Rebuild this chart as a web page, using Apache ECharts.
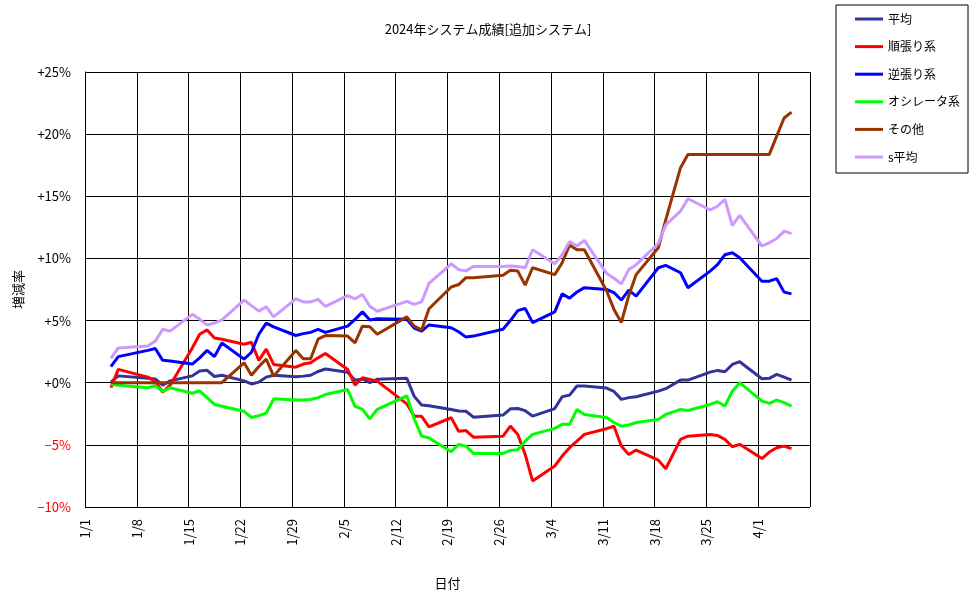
<!DOCTYPE html>
<html>
<head>
<meta charset="utf-8">
<script src="https://cdn.jsdelivr.net/npm/echarts@6/dist/echarts.min.js"></script>
<style>
  html, body { margin: 0; padding: 0; background: #fff; }
  #chart { width: 976px; height: 599px; }
</style>
</head>
<body>
<div id="chart"></div>
<script>
// 営業日
var dates = ['1/4','1/5','1/9','1/10','1/11','1/12','1/15','1/16','1/17','1/18','1/19','1/22','1/23','1/24','1/25','1/26','1/29','1/30','1/31',
	'2/1','2/2','2/5','2/6','2/7','2/8','2/9','2/13','2/14','2/15','2/16','2/19','2/20','2/21','2/22','2/26','2/27','2/28','2/29',
	'3/1','3/4','3/5','3/6','3/7','3/8','3/11','3/12','3/13','3/14','3/15','3/18','3/19','3/21','3/22','3/25','3/26','3/27','3/28','3/29',
	'4/1','4/2','4/3','4/4','4/5'];

var seriesNames = ['平均', '順張り系', '逆張り系', 'オシレータ系', 'その他', 's平均'];
var seriesColors = ['#333399', '#ff0000', '#0000ff', '#00ff00', '#993300', '#cc99ff'];

var avgValues = [0.05, 0.55, 0.35, 0.3, -0.2, 0.15, 0.55, 0.95, 1.0, 0.5, 0.6, 0.15, -0.1, 0.05, 0.45, 0.6, 0.48, 0.53, 0.6,
	0.9, 1.1, 0.85, 0.2, 0.3, 0.0, 0.27, 0.35, -1.1, -1.8, -1.85, -2.15, -2.28, -2.3, -2.77, -2.6, -2.1, -2.08, -2.25,
	-2.69, -2.08, -1.13, -1.0, -0.27, -0.27, -0.43, -0.7, -1.34, -1.2, -1.13, -0.68, -0.48, 0.21, 0.21, 0.85, 0.99, 0.88, 1.47, 1.69,
	0.32, 0.35, 0.67, 0.45, 0.21];
var trendValues = [-0.4, 1.07, 0.45, 0.1, -0.75, -0.2, 2.8, 3.9, 4.25, 3.6, 3.5, 3.1, 3.25, 1.8, 2.7, 1.47, 1.25, 1.5, 1.6,
	2.0, 2.35, 1.07, -0.2, 0.4, 0.27, 0.13, -1.7, -2.7, -2.7, -3.55, -2.82, -3.9, -3.85, -4.38, -4.3, -3.49, -4.16, -5.77,
	-7.9, -6.7, -5.9, -5.23, -4.7, -4.16, -3.7, -3.5, -5.1, -5.77, -5.42, -6.23, -6.92, -4.56, -4.3, -4.16, -4.25, -4.56, -5.15, -4.96,
	-6.1, -5.58, -5.23, -5.1, -5.3];
var contraValues = [1.3, 2.1, 2.6, 2.75, 1.8, 1.75, 1.5, 2.0, 2.6, 2.1, 3.2, 1.9, 2.45, 3.9, 4.8, 4.5, 3.8, 3.95, 4.05,
	4.3, 4.05, 4.55, 5.1, 5.7, 5.05, 5.15, 5.1, 4.4, 4.15, 4.65, 4.42, 4.1, 3.67, 3.75, 4.3, 5.0, 5.8, 5.98,
	4.83, 5.7, 7.15, 6.8, 7.3, 7.65, 7.5, 7.25, 6.65, 7.45, 6.97, 9.25, 9.44, 8.85, 7.64, 8.98, 9.5, 10.3, 10.46, 10.06,
	8.17, 8.17, 8.37, 7.29, 7.15];
var oscValues = [-0.15, -0.2, -0.4, -0.25, -0.7, -0.4, -0.85, -0.65, -1.2, -1.75, -1.9, -2.3, -2.8, -2.65, -2.45, -1.3, -1.4, -1.4, -1.35,
	-1.2, -0.95, -0.55, -1.9, -2.15, -2.9, -2.15, -1.05, -2.9, -4.3, -4.45, -5.55, -4.96, -5.1, -5.69, -5.69, -5.45, -5.4, -4.7,
	-4.16, -3.67, -3.35, -3.35, -2.15, -2.55, -2.8, -3.2, -3.5, -3.4, -3.2, -2.95, -2.55, -2.15, -2.23, -1.75, -1.53, -1.88, -0.68, 0,
	-1.48, -1.66, -1.4, -1.6, -1.88];
var otherValues = [0, 0, 0, 0, 0, 0, 0, 0, 0, 0, 0, 1.6, 0.6, 1.3, 1.9, 0.53, 2.6, 1.93, 1.93,
	3.5, 3.8, 3.75, 3.2, 4.55, 4.5, 3.9, 5.3, 4.55, 4.25, 5.95, 7.7, 7.9, 8.45, 8.45, 8.65, 9.05, 8.98, 7.85,
	9.25, 8.7, 9.65, 11.07, 10.7, 10.7, 7.4, 5.9, 4.85, 7.0, 8.7, 10.86, 13.1, 17.3, 18.37, 18.37, 18.37, 18.37, 18.37, 18.37,
	18.37, 18.37, 19.84, 21.3, 21.77];
var sAvgValues = [1.95, 2.8, 2.95, 3.35, 4.3, 4.15, 5.5, 5.1, 4.65, 4.8, 5.05, 6.65, 6.2, 5.76, 6.1, 5.3, 6.75, 6.5, 6.5,
	6.7, 6.15, 7.0, 6.75, 7.1, 6.15, 5.75, 6.55, 6.3, 6.5, 8.0, 9.57, 9.1, 9.0, 9.35, 9.35, 9.4, 9.35, 9.25,
	10.7, 9.57, 10.3, 11.35, 11.0, 11.45, 8.8, 8.4, 7.95, 9.1, 9.5, 11.2, 12.7, 13.8, 14.8, 13.9, 14.2, 14.75, 12.65, 13.46,
	11.0, 11.26, 11.6, 12.2, 12.0];

var yTicks = [-10, -5, 0, 5, 10, 15, 20, 25];

var allValues = [avgValues, trendValues, contraValues, oscValues, otherValues, sAvgValues];

// 1/1 からの日数（日の中央に置く）
function dayIndex(s) {
	var p = s.split('/');
	var d = new Date(2024, +p[0] - 1, +p[1]);
	return Math.round((d - new Date(2024, 0, 1)) / 86400000) + 0.5;
}
function dayLabel(v) {
	var d = new Date(2024, 0, 1 + v);
	return (d.getMonth() + 1) + '/' + d.getDate();
}
function pctLabel(v) {
	if (v < 0) return '\u2212' + (-v) + '%';
	return '+' + v + '%';
}

var font = '"Noto Sans CJK JP", sans-serif';
var myChart = echarts.init(document.getElementById('chart'));

var series = seriesNames.map(function(name, i) {
	return {
		name: name,
		type: 'line',
		showSymbol: false,
		symbol: 'none',
		animation: false,
		lineStyle: { width: 3, color: seriesColors[i] },
		itemStyle: { color: seriesColors[i] },
		data: dates.map(function(d, j) { return [dayIndex(d), allValues[i][j]]; })
	};
});

var option = {
	backgroundColor: '#fff',
	animation: false,
	title: {
		text: '2024年システム成績[追加システム]',
		left: 'center',
		top: 18,
		textStyle: { fontFamily: font, fontSize: 13, fontWeight: 'normal', color: '#000' }
	},
	legend: {
		orient: 'vertical',
		left: 836,
		top: 5,
		padding: [7, 8, 9, 19],
		itemGap: 13.6,
		itemWidth: 28,
		itemHeight: 3,
		icon: 'rect',
		borderColor: '#000',
		borderWidth: 1,
		data: seriesNames,
		textStyle: { fontFamily: font, fontSize: 12, color: '#000', lineHeight: 14 }
	},
	grid: { left: 85, top: 72, width: 725, height: 435 },
	xAxis: {
		type: 'value',
		min: 0,
		max: 98,
		interval: 7,
		name: '日付',
		nameLocation: 'middle',
		nameGap: 70,
		nameTextStyle: { fontFamily: font, fontSize: 13, color: '#000' },
		axisLine: { lineStyle: { color: '#000', width: 1 } },
		axisTick: { show: false },
		splitLine: { show: true, lineStyle: { color: '#000', width: 1 } },
		axisLabel: {
			rotate: 90,
			margin: 12,
			showMaxLabel: false,
			fontFamily: font,
			fontSize: 13,
			color: '#000',
			formatter: dayLabel
		}
	},
	yAxis: {
		type: 'value',
		min: yTicks[0],
		max: yTicks[yTicks.length - 1],
		interval: 5,
		name: '増減率',
		nameLocation: 'middle',
		nameRotate: 90,
		nameGap: 60,
		nameTextStyle: { fontFamily: font, fontSize: 13, color: '#000' },
		axisLine: { show: true, lineStyle: { color: '#000', width: 1 } },
		axisTick: { show: false },
		splitLine: { show: true, lineStyle: { color: '#000', width: 1 } },
		axisLabel: {
			margin: 14,
			fontFamily: font,
			fontSize: 13,
			formatter: pctLabel,
			color: function(v) { return v < 0 ? '#ff0000' : '#000'; }
		}
	},
	series: series
};
myChart.setOption(option);
</script>
</body>
</html>
